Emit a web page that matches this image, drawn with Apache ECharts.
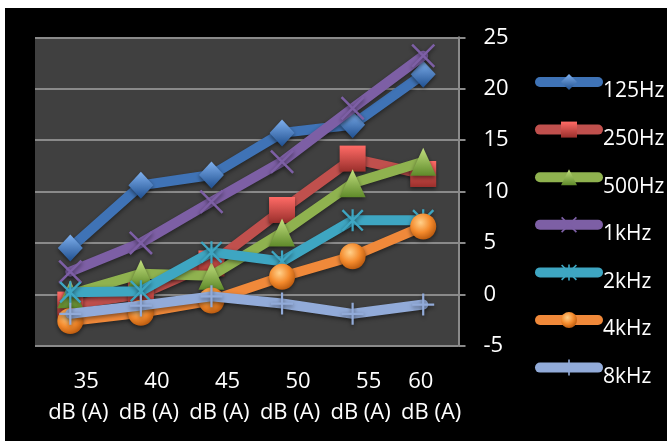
<!DOCTYPE html>
<html>
<head>
<meta charset="utf-8">
<script src="https://cdn.jsdelivr.net/npm/echarts@6/dist/echarts.min.js"></script>
<style>
  html, body { margin: 0; padding: 0; background: #fff; }
  #chart { position: absolute; left: 5px; top: 8px; width: 662px; height: 433px; background: #000; }
</style>
</head>
<body>
<div id="chart"></div>
<script>
// Noise level categories (x axis) and unit line
const categories = ['35', '40', '45', '50', '55', '60'];
const unitLabel = 'dB (A)';

// Frequency bands (series names)
const seriesNames = ['125Hz', '250Hz', '500Hz', '1kHz', '2kHz', '4kHz', '8kHz'];

// Values per band, one per noise level
const hz125 = [4.5, 10.6, 11.6, 15.7, 16.5, 21.4];
const hz250 = [-1, 0, 3, 8.2, 13.2, 11.7];
const hz500 = [0, 2, 1.8, 6, 10.8, 12.9];
const khz1  = [2.2, 5, 9, 12.9, 18.1, 23.2];
const khz2  = [0.2, 0.3, 4.1, 3.2, 7.2, 7.2];
const khz4  = [-2.6, -1.8, -0.6, 1.7, 3.7, 6.6];
const khz8  = [-1.9, -1.1, -0.2, -0.9, -1.9, -1];

// Value axis range
const yMin = -5, yMax = 25, yStep = 5;

const FONT = '"Open Sans", "Noto Sans", sans-serif';

function vGrad(top, bottom) {
  return { type: 'linear', x: 0, y: 0, x2: 0, y2: 1,
    colorStops: [{ offset: 0, color: top }, { offset: 1, color: bottom }] };
}
function ballGrad(light, base, dark) {
  return { type: 'radial', x: 0.4, y: 0.35, r: 0.7,
    colorStops: [{ offset: 0, color: light }, { offset: 0.55, color: base }, { offset: 1, color: dark }] };
}

// Marker shapes
const X_PATH = 'path://M0,1.5 L1.5,0 L20,18.5 L18.5,20 Z M18.5,0 L20,1.5 L1.5,20 L0,18.5 Z';
const STAR_PATH = 'path://M9,0 L11,0 L11,20 L9,20 Z M0,1.5 L1.5,0 L20,18.5 L18.5,20 Z M18.5,0 L20,1.5 L1.5,20 L0,18.5 Z';
const PLUS_PATH = 'path://M9,0 L11,0 L11,20 L9,20 Z M0,9 L20,9 L20,11 L0,11 Z';

const styles = [
  { data: hz125, line: '#3f73b6', symbol: 'diamond', size: [25, 27], fill: vGrad('#7fb0ee', '#1f4f8f') },
  { data: hz250, line: '#c0504d', symbol: 'rect', size: 26, fill: vGrad('#ff6b66', '#9a2f2c') },
  { data: hz500, line: '#8fb24f', symbol: 'triangle', size: [26, 28], fill: vGrad('#c3e07f', '#5f8a2a') },
  { data: khz1,  line: '#7d5fa5', symbol: X_PATH, size: 24, fill: '#7d5fa5' },
  { data: khz2,  line: '#3ea6c2', symbol: STAR_PATH, size: 22, fill: '#3ea6c2' },
  { data: khz4,  line: '#f0893a', symbol: 'circle', size: 26, fill: ballGrad('#ffd08a', '#f48a2c', '#b5560c') },
  { data: khz8,  line: '#92abd9', symbol: PLUS_PATH, size: 22, fill: '#92abd9' }
];

const series = styles.map((s, i) => ({
  name: seriesNames[i],
  type: 'line',
  data: s.data,
  z: 2 + i,
  symbol: s.symbol,
  symbolSize: s.size,
  showAllSymbol: true,
  lineStyle: { color: s.line, width: 10, cap: 'round', join: 'round',
    shadowColor: 'rgba(0,0,0,0.45)', shadowBlur: 4, shadowOffsetY: 2 },
  itemStyle: { color: s.fill, borderWidth: 0, opacity: 1,
    shadowColor: 'rgba(0,0,0,0.5)', shadowBlur: 4, shadowOffsetY: 2 },
  emphasis: { disabled: true },
  animation: false
}));

const chart = echarts.init(document.getElementById('chart'), null, { renderer: 'canvas' });
const lastIdx = categories.length - 1;

chart.setOption({
  backgroundColor: '#000',
  animation: false,
  grid: { left: 30, right: 208.5, top: 29.3, bottom: 95.3, show: true,
    backgroundColor: '#404040', borderWidth: 0 },
  legend: {
    orient: 'vertical', left: 525, top: 61, padding: 5,
    itemWidth: 58, itemHeight: 20, itemGap: 19.6,
    lineStyle: { width: 10, cap: 'round' },
    formatter: '{s| }{t|{name}}',
    textStyle: {
      color: '#fff', fontSize: 21, fontFamily: FONT,
      rich: {
        s: { fontSize: 1, lineHeight: 40, width: 0 },
        t: { color: '#fff', fontSize: 21, fontFamily: FONT, lineHeight: 20, verticalAlign: 'bottom' }
      }
    },
    data: seriesNames
  },
  xAxis: {
    type: 'category', data: categories, boundaryGap: true,
    axisLine: { show: false }, axisTick: { show: false },
    axisLabel: {
      interval: 0, margin: 21, color: '#fff', fontFamily: FONT, fontSize: 22,
      formatter: (v, i) => (i === lastIdx ? `{m|${v}}` : `{n|${v}}`) + `\n{u|${unitLabel}}`,
      rich: {
        n: { color: '#fff', fontFamily: FONT, fontSize: 22, lineHeight: 31, padding: [0, 0, 0, 32] },
        m: { color: '#fff', fontFamily: FONT, fontSize: 22, lineHeight: 31, padding: [0, 5, 0, 0] },
        u: { color: '#fff', fontFamily: FONT, fontSize: 22, lineHeight: 31, padding: [0, 0, 0, 16] }
      }
    },
    splitLine: { show: false }
  },
  yAxis: {
    type: 'value', position: 'right', min: yMin, max: yMax, interval: yStep,
    axisLine: { show: true, lineStyle: { color: '#8a8a8a', width: 2 } },
    axisTick: { show: true, length: 7, lineStyle: { color: '#8a8a8a', width: 2 } },
    axisLabel: { margin: 25, color: '#fff', fontFamily: FONT, fontSize: 22 },
    splitLine: { show: true, lineStyle: { color: '#8a8a8a', width: 2 } }
  },
  series: series
});
</script>
</body>
</html>
